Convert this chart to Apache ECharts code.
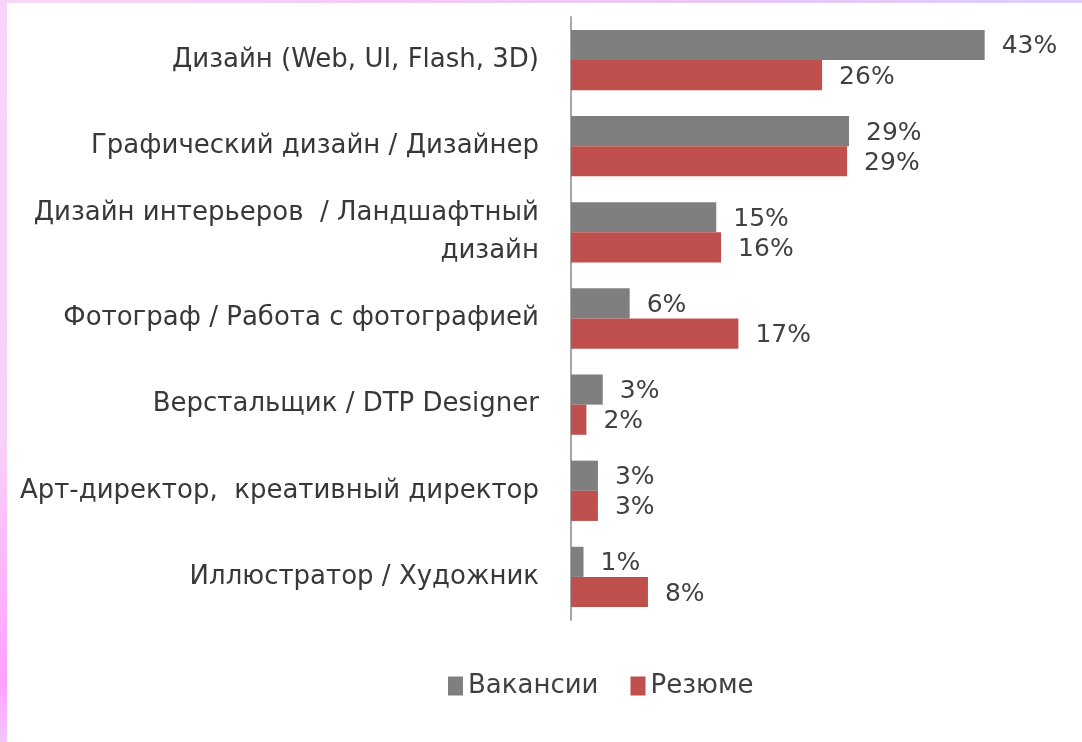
<!DOCTYPE html>
<html>
<head>
<meta charset="utf-8">
<script src="https://cdn.jsdelivr.net/npm/echarts@6/dist/echarts.min.js"></script>
<style>
  html, body { margin: 0; padding: 0; width: 1082px; height: 742px; overflow: hidden; }
  body { background: #ffffff; position: relative; }
  #frameTop { position: absolute; left: 0; top: 0; width: 1082px; height: 3px;
    background: linear-gradient(to right, #f8d8f8, #f4c8f4 40%, #e8c8f8 70%, #dcd0fa); }
  #frameLeft { position: absolute; left: 0; top: 0; width: 7px; height: 742px;
    background: linear-gradient(to bottom, #f8d4f8, #f7d0f7 60%, #ffa0ff 92%, #f2c8f8); }
  #chart { position: absolute; left: 0; top: 0; width: 1082px; height: 742px; }
</style>
</head>
<body>
<div id="chart"></div>
<div id="frameTop"></div>
<div id="frameLeft"></div>
<script>
const categories = [
  'Дизайн (Web, UI, Flash, 3D)',
  'Графический дизайн / Дизайнер',
  'Дизайн интерьеров  / Ландшафтный\nдизайн',
  'Фотограф / Работа с фотографией',
  'Верстальщик / DTP Designer',
  'Арт-директор,  креативный директор',
  'Иллюстратор / Художник'
];
const seriesNames = ['Вакансии', 'Резюме'];
const vacancies = [43, 28.9, 15.1, 6.1, 3.3, 2.8, 1.3];
const resumes = [26.1, 28.7, 15.6, 17.4, 1.6, 2.8, 8.0];

const chart = echarts.init(document.getElementById('chart'), null, { renderer: 'canvas' });
const fontFamily = '"DejaVu Sans", sans-serif';
const labelCfg = {
  show: true,
  position: 'right',
  distance: 17,
  offset: [0, 2],
  color: '#404040',
  fontSize: 25,
  fontFamily: fontFamily,
  formatter: p => Math.round(p.value) + '%'
};
chart.setOption({
  backgroundColor: 'transparent',
  animation: false,
  grid: { left: 571, right: 30, top: 17, bottom: 122, containLabel: false },
  legend: {
    bottom: 38,
    left: 443,
    itemWidth: 15,
    itemHeight: 19,
    itemGap: 32,
    icon: 'rect',
    textStyle: { fontSize: 26, color: '#404040', fontFamily: fontFamily },
    data: seriesNames
  },
  xAxis: {
    type: 'value',
    min: 0,
    max: 50,
    show: false,
    splitLine: { show: false }
  },
  yAxis: {
    type: 'category',
    inverse: true,
    data: categories,
    axisLine: { show: true, lineStyle: { color: '#a6a6a6', width: 2 } },
    axisTick: { show: false },
    axisLabel: {
      color: '#383838',
      fontSize: 26,
      fontFamily: fontFamily,
      margin: 32,
      align: 'right',
      lineHeight: 38
    }
  },
  series: [
    {
      name: seriesNames[0],
      type: 'bar',
      data: vacancies,
      barGap: '0%',
      barCategoryGap: '30%',
      itemStyle: { color: '#7f7f7f' },
      label: labelCfg
    },
    {
      name: seriesNames[1],
      type: 'bar',
      data: resumes,
      barGap: '0%',
      barCategoryGap: '30%',
      itemStyle: { color: '#c0504d' },
      label: labelCfg
    }
  ]
});
</script>
</body>
</html>
